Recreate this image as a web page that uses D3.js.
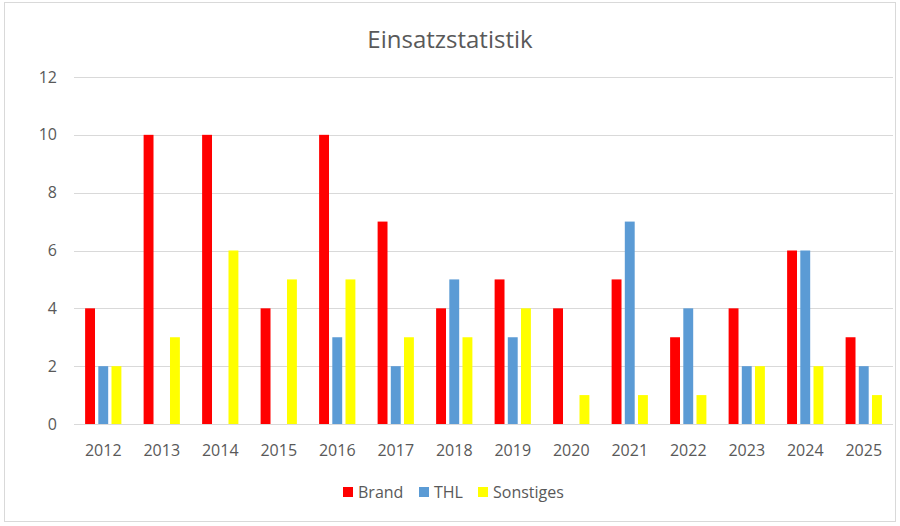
<!DOCTYPE html>
<html>
<head>
<meta charset="utf-8">
<script src="https://cdn.jsdelivr.net/npm/d3@7"></script>
<style>
  body { margin: 0; background: #fff; }
  svg { font-family: 'Open Sans', 'Noto Sans', sans-serif; }
</style>
</head>
<body>
<svg id="chart" width="900" height="526"></svg>
<script>
const years = ['2012', '2013', '2014', '2015', '2016', '2017', '2018', '2019', '2020', '2021', '2022', '2023', '2024', '2025'];
const seriesNames = ['Brand', 'THL', 'Sonstiges'];
const brand = [4, 10, 10, 4, 10, 7, 4, 5, 4, 5, 3, 4, 6, 3];
const thl = [2, 0, 0, 0, 3, 2, 5, 3, 0, 7, 4, 2, 6, 2];
const sonstiges = [2, 3, 6, 5, 5, 3, 3, 4, 1, 1, 1, 2, 2, 1];
const yTicks = [0, 2, 4, 6, 8, 10, 12];

const colors = ['#ff0000', '#5b9bd5', '#ffff00'];
const values = [brand, thl, sonstiges];

const svg = d3.select('#chart');
const textColor = '#595959';

// outer frame
svg.append('rect')
    .attr('x', 4.5).attr('y', 2.5)
    .attr('width', 891).attr('height', 519)
    .attr('fill', '#fff')
    .attr('stroke', '#d9d9d9');

const margin = { left: 74, right: 893, top: 77, bottom: 424 };

const x = d3.scaleBand()
    .domain(years)
    .range([margin.left, margin.right])
    .paddingInner(0)
    .paddingOuter(0);

const xInner = d3.scaleBand()
    .domain(seriesNames)
    .range([x.bandwidth() * 0.19, x.bandwidth() * 0.81])
    .paddingInner(0.25);

const y = d3.scaleLinear()
    .domain([0, 12])
    .range([margin.bottom, margin.top]);

// gridlines
svg.append('g')
  .selectAll('line')
  .data(yTicks)
  .enter().append('line')
    .attr('x1', margin.left).attr('x2', margin.right)
    .attr('y1', d => Math.round(y(d)) + 0.5)
    .attr('y2', d => Math.round(y(d)) + 0.5)
    .attr('stroke', '#d9d9d9')
    .attr('stroke-width', 1);

// y labels
svg.append('g')
  .selectAll('text')
  .data(yTicks)
  .enter().append('text')
    .attr('x', 57)
    .attr('y', d => y(d))
    .attr('dy', '0.35em')
    .attr('text-anchor', 'end')
    .attr('fill', textColor)
    .style('font-size', '16px')
    .text(d => d);

// bars
const groups = svg.append('g')
  .selectAll('g')
  .data(years)
  .enter().append('g')
    .attr('transform', d => `translate(${x(d)},0)`);

groups.selectAll('rect')
  .data((d, i) => seriesNames.map((s, j) => ({ s, v: values[j][i], c: colors[j] })))
  .enter().append('rect')
    .attr('x', d => xInner(d.s))
    .attr('width', xInner.bandwidth())
    .attr('y', d => y(d.v))
    .attr('height', d => y(0) - y(d.v))
    .attr('fill', d => d.c);

// baseline
svg.append('line')
    .attr('x1', margin.left).attr('x2', margin.right)
    .attr('y1', margin.bottom + 0.5).attr('y2', margin.bottom + 0.5)
    .attr('stroke', '#d9d9d9');

// x labels
svg.append('g')
  .selectAll('text')
  .data(years)
  .enter().append('text')
    .attr('x', d => x(d) + x.bandwidth() / 2)
    .attr('y', 456)
    .attr('text-anchor', 'middle')
    .attr('fill', textColor)
    .style('font-size', '16px')
    .text(d => d);

// title
svg.append('text')
    .attr('x', 450)
    .attr('y', 48)
    .attr('text-anchor', 'middle')
    .attr('fill', textColor)
    .style('font-size', '24px')
    .text('Einsatzstatistik');

// legend
const legendX = [343, 419, 478];
const legend = svg.append('g')
  .selectAll('g')
  .data(seriesNames)
  .enter().append('g')
    .attr('transform', (d, i) => `translate(${legendX[i]},487)`);
legend.append('rect')
    .attr('width', 10).attr('height', 10)
    .attr('fill', (d, i) => colors[i]);
legend.append('text')
    .attr('x', 15)
    .attr('y', 5)
    .attr('dy', '0.35em')
    .attr('fill', textColor)
    .style('font-size', '16px')
    .text(d => d);
</script>
</body>
</html>
